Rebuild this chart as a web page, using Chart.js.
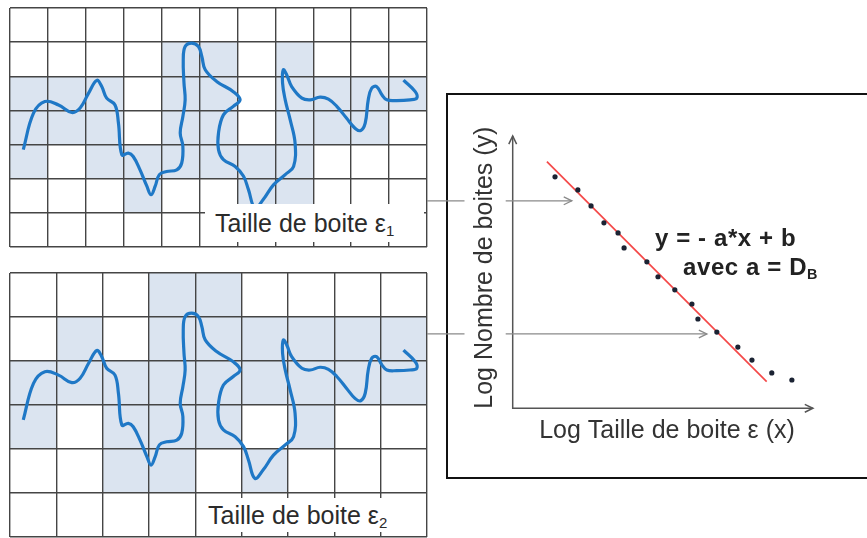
<!DOCTYPE html>
<html>
<head>
<meta charset="utf-8">
<script src="https://cdn.jsdelivr.net/npm/chart.js@4.4.1/dist/chart.umd.min.js"></script>
<style>
  html, body { margin: 0; padding: 0; background: #fff; overflow: hidden; }
  body { width: 867px; height: 538px; position: relative; font-family: "Liberation Sans", Arial, sans-serif; }
  .panel { position: absolute; }
  .frame { position: absolute; left: 446px; top: 93px; width: 440px; height: 382px; border: 2px solid #111; }
  .caption { position: absolute; background: #fff; color: #2b2b2b; font-size: 25px; white-space: nowrap; box-sizing: border-box; }
  .caption sub, .eq sub { font-size: 60%; vertical-align: -4px; line-height: 0; }
  .eq { position: absolute; font-weight: bold; color: #222; font-size: 24px; line-height: 24px; letter-spacing: 0.6px; white-space: nowrap; }
</style>
</head>
<body>
<div class="frame"></div>
<div class="panel" style="left:0;top:0;width:430px;height:250px"><canvas id="grid1"></canvas></div>
<div class="panel" style="left:0;top:265px;width:430px;height:273px"><canvas id="grid2"></canvas></div>
<div class="panel" style="left:427px;top:0;width:440px;height:538px"><canvas id="loglog"></canvas></div>

<div class="caption" style="left:205px;top:204px;width:219px;height:38px;line-height:38px;padding-left:10px">Taille de boite ε<sub>1</sub></div>
<div class="caption" style="left:201px;top:498px;width:223px;height:34px;line-height:34px;padding-left:7px">Taille de boite ε<sub>2</sub></div>
<div class="eq" style="left:655px;top:226px">y = - a*x + b</div>
<div class="eq" style="left:683px;top:255px">avec a = D<sub>B</sub></div>

<script>
// the fractal trace, in units of the small boxes (epsilon 1), row 0 at the top
const traceX = [0.35, 0.62, 0.92, 1.28, 1.63, 1.85, 2.07, 2.29, 2.42, 2.55, 2.77, 2.86, 2.95, 3.12, 3.25,
  3.43, 3.61, 3.72, 3.83, 3.94, 4.13, 4.40, 4.53, 4.56, 4.49, 4.56, 4.62, 4.59, 4.57, 4.62, 4.79,
  4.97, 5.06, 5.15, 5.45, 5.89, 6.07, 5.89, 5.63, 5.50, 5.50, 5.63, 5.94, 6.16, 6.29, 6.46, 6.68,
  6.95, 7.26, 7.48, 7.52, 7.39, 7.26, 7.19, 7.21, 7.30, 7.43, 7.70, 7.92, 8.18, 8.40, 8.62, 8.88,
  9.10, 9.25, 9.37, 9.45, 9.54, 9.67, 9.81, 9.94, 10.20, 10.55, 10.73, 10.69, 10.38];
const traceY = [4.15, 3.08, 2.74, 2.84, 3.06, 2.93, 2.50, 2.12, 2.30, 2.64, 2.84, 3.37, 4.30, 4.25, 4.35,
  4.74, 5.22, 5.47, 5.22, 4.88, 4.79, 4.74, 4.54, 4.05, 3.66, 3.18, 2.69, 2.20, 1.52, 1.13, 1.03,
  1.13, 1.42, 1.81, 2.15, 2.45, 2.69, 2.88, 3.13, 3.66, 4.15, 4.44, 4.64, 4.93, 5.32, 5.86, 5.61,
  5.18, 4.88, 4.64, 3.96, 3.27, 2.69, 2.20, 1.81, 1.96, 2.30, 2.64, 2.69, 2.61, 2.67, 2.88, 3.23,
  3.52, 3.59, 3.37, 2.69, 2.35, 2.30, 2.54, 2.69, 2.71, 2.69, 2.64, 2.45, 2.11];

// occupied boxes [column, row]
const boxes1 = [[4,1],[5,1],[7,1],
  [0,2],[1,2],[2,2],[4,2],[5,2],[7,2],[8,2],[9,2],[10,2],
  [0,3],[1,3],[2,3],[4,3],[5,3],[7,3],[8,3],[9,3],
  [0,4],[2,4],[3,4],[4,4],[5,4],[6,4],[7,4],
  [3,5],[6,5],[7,5]];
const boxes2 = [[3,0],[4,0],
  [1,1],[3,1],[4,1],[5,1],[6,1],[7,1],[8,1],
  [0,2],[1,2],[2,2],[3,2],[4,2],[5,2],[6,2],[7,2],[8,2],
  [0,3],[2,3],[3,3],[4,3],[6,3],
  [2,4],[3,4],[5,4]];

// log-log plot
const logEps = [1.41, 2.17, 2.61, 3.04, 3.51, 3.71, 4.47, 4.84, 5.40, 5.97, 6.17, 6.80, 7.50, 7.97, 8.63, 9.30];
const logN   = [8.50, 8.02, 7.43, 6.81, 6.44, 5.89, 5.38, 4.83, 4.35, 3.83, 3.28, 2.80, 2.25, 1.77, 1.30, 1.04];
const fitX = [1.14, 8.46];
const fitY = [9.06, 0.98];
const guideY = [7.62, 2.73];
const guideTipX = [1.97, 6.47];

const TRACE_COLOR = '#1f78c6';
const BOX_COLOR = '#dbe4f0';
const GRID_COLOR = '#454545';

const boxPlugin = {
  id: 'boxes',
  beforeDraw(chart, args, opts) {
    const { ctx, scales: { x, y } } = chart;
    ctx.save();
    ctx.fillStyle = BOX_COLOR;
    opts.cells.forEach(([c, r]) => {
      const x0 = x.getPixelForValue(opts.xb[c]);
      const x1 = x.getPixelForValue(opts.xb[c + 1]);
      const y0 = y.getPixelForValue(opts.yb[r]);
      const y1 = y.getPixelForValue(opts.yb[r + 1]);
      ctx.fillRect(x0, y0, x1 - x0, y1 - y0);
    });
    ctx.restore();
  }
};

function bounds(min, max, n) {
  return Array.from({ length: n + 1 }, (_, i) => min + i * (max - min) / n);
}

function createGridChart(id, cols, rows, yMin, yMax, cells, pad) {
  const xb = bounds(0, 11, cols);
  const yb = bounds(yMin, yMax, rows);
  const ctx = document.getElementById(id).getContext('2d');
  new Chart(ctx, {
    type: 'scatter',
    data: {
      datasets: [{
        data: traceX.map((v, i) => ({ x: v, y: traceY[i] })),
        showLine: true,
        tension: 0.4,
        borderColor: TRACE_COLOR,
        borderWidth: 3.2,
        pointRadius: 0
      }]
    },
    options: {
      responsive: true,
      maintainAspectRatio: false,
      animation: false,
      events: [],
      layout: { padding: pad },
      scales: {
        x: {
          type: 'linear', min: 0, max: 11,
          afterBuildTicks: s => { s.ticks = xb.map(v => ({ value: v })); },
          ticks: { display: false },
          grid: { color: GRID_COLOR, lineWidth: 1.4, drawTicks: false },
          border: { display: false }
        },
        y: {
          type: 'linear', min: yMin, max: yMax, reverse: true,
          afterBuildTicks: s => { s.ticks = yb.map(v => ({ value: v })); },
          ticks: { display: false },
          grid: { color: GRID_COLOR, lineWidth: 1.4, drawTicks: false },
          border: { display: false }
        }
      },
      plugins: {
        legend: { display: false },
        tooltip: { enabled: false },
        boxes: { cells: cells, xb: xb, yb: yb }
      }
    },
    plugins: [boxPlugin]
  });
}

function arrowHead(ctx, x, y, dx, dy, len) {
  const a = Math.atan2(dy, dx);
  ctx.beginPath();
  ctx.moveTo(x - len * Math.cos(a - 0.45), y - len * Math.sin(a - 0.45));
  ctx.lineTo(x, y);
  ctx.lineTo(x - len * Math.cos(a + 0.45), y - len * Math.sin(a + 0.45));
  ctx.stroke();
}

const axesPlugin = {
  id: 'arrowAxes',
  beforeDatasetsDraw(chart) {
    const { ctx, chartArea, scales: { x, y } } = chart;
    const x0 = x.getPixelForValue(0), y0 = y.getPixelForValue(0);
    const xEnd = x.getPixelForValue(10), yEnd = y.getPixelForValue(10);
    ctx.save();
    // axes
    ctx.strokeStyle = '#555';
    ctx.lineWidth = 1.5;
    ctx.beginPath();
    ctx.moveTo(x0, yEnd); ctx.lineTo(x0, y0); ctx.lineTo(xEnd, y0);
    ctx.stroke();
    arrowHead(ctx, xEnd, y0, 1, 0, 9);
    arrowHead(ctx, x0, yEnd, 0, -1, 9);
    // guides coming from the two box grids
    ctx.strokeStyle = '#8a8a8a';
    ctx.lineWidth = 1.3;
    const gapStart = y.left - 6, gapEnd = chartArea.left - 7;
    guideY.forEach((v, i) => {
      const py = y.getPixelForValue(v);
      const tip = x.getPixelForValue(guideTipX[i]);
      ctx.beginPath();
      ctx.moveTo(0, py); ctx.lineTo(gapStart, py);
      ctx.moveTo(gapEnd, py); ctx.lineTo(tip, py);
      ctx.stroke();
      arrowHead(ctx, tip, py, 1, 0, 9);
    });
    ctx.restore();
  }
};

function createLogChart() {
  const ctx = document.getElementById('loglog').getContext('2d');
  const titleFont = { family: 'Liberation Sans', size: 25 };
  new Chart(ctx, {
    type: 'scatter',
    data: {
      datasets: [
        {
          data: logEps.map((v, i) => ({ x: v, y: logN[i] })),
          pointRadius: 2.6,
          pointBackgroundColor: '#1b2333',
          pointBorderWidth: 0
        },
        {
          data: fitX.map((v, i) => ({ x: v, y: fitY[i] })),
          showLine: true,
          borderColor: '#f44848',
          borderWidth: 1.7,
          pointRadius: 0
        }
      ]
    },
    options: {
      responsive: true,
      maintainAspectRatio: false,
      animation: false,
      events: [],
      layout: { padding: { left: 43.5, top: 127, right: 45.7, bottom: 92.2 } },
      scales: {
        x: {
          type: 'linear', min: 0, max: 10.28,
          ticks: { display: false },
          grid: { display: false, drawTicks: false },
          border: { display: false },
          title: { display: true, text: 'Log Taille de boite ε (x)', color: '#333', font: titleFont, padding: { top: 7.5, bottom: 0 } }
        },
        y: {
          type: 'linear', min: 0, max: 10.33,
          ticks: { display: false },
          grid: { display: false, drawTicks: false },
          border: { display: false },
          title: { display: true, text: 'Log Nombre de boites (y)', color: '#333', font: titleFont, padding: { top: 0, bottom: 12.2 } }
        }
      },
      plugins: {
        legend: { display: false },
        tooltip: { enabled: false }
      }
    },
    plugins: [axesPlugin]
  });
}

document.addEventListener('DOMContentLoaded', () => {
  createGridChart('grid1', 11, 7, 0, 7, boxes1, { left: 10, top: 8, right: 3, bottom: 3 });
  createGridChart('grid2', 9, 6, -0.146, 7.573, boxes2, { left: 10, top: 8, right: 3, bottom: 1 });
  createLogChart();
});
</script>
</body>
</html>
